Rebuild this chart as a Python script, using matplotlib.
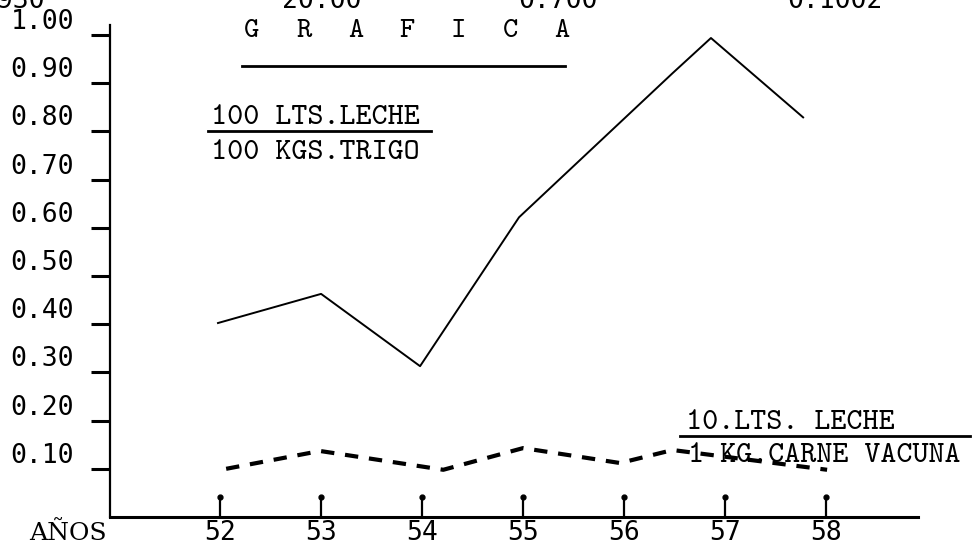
#Grafica: relacion de precios leche / trigo y leche / carne vacuna
import numpy as np
import matplotlib.pyplot as plt
from matplotlib.transforms import ScaledTranslation

# años (eje x) y ticks
years = [52, 53, 54, 55, 56, 57, 58]
year_labels = ['52', '53', '54', '55', '56', '57', '58']
y_ticks = [0.10, 0.20, 0.30, 0.40, 0.50, 0.60, 0.70, 0.80, 0.90, 1.00]
y_labels = ['0.10', '0.20', '0.30', '0.40', '0.50', '0.60', '0.70', '0.80', '0.90', '1.00']

# 100 lts leche / 100 kgs trigo (posiciones)
trigo_x = [51.97, 53.0, 53.98, 54.96, 56.48, 56.86, 57.78]
trigo_y = [0.402, 0.463, 0.313, 0.622, 0.921, 0.994, 0.828]

# 10 lts leche / 1 kg carne vacuna
carne_x = [52.06, 52.99, 54.21, 55.0, 55.96, 56.48, 58.01]
carne_y = [0.100, 0.137, 0.098, 0.143, 0.112, 0.139, 0.098]

# cabecera cortada arriba
header = ['1930', '20.00', '0.700', '0.1002']
title = 'GRAFICA'

mono = ['DejaVu Sans Mono']
tw = ['cmtt10', 'DejaVu Serif']

fig = plt.figure(figsize=(9.72, 5.46), dpi=100)
ax = fig.add_axes([110/972, 29/546, 808/972, 492/546])

ax.plot(trigo_x, trigo_y, color='black', lw=1.4, solid_capstyle='butt')
ax.plot(carne_x, carne_y, color='black', lw=3, dashes=(3.2, 2.6))

ax.set_xlim(50.91, 58.91)
ax.set_ylim(0, 1.021)

for s in ['top', 'right']:
    ax.spines[s].set_visible(False)
ax.spines['left'].set_linewidth(1.6)
ax.spines['bottom'].set_linewidth(2.2)

ax.set_yticks(y_ticks)
ax.set_yticklabels(y_labels, family=mono, fontsize=19)
ax.tick_params(axis='y', direction='out', length=14, width=2.2, pad=12)
for lbl in ax.get_yticklabels():
    lbl.set_transform(lbl.get_transform() + ScaledTranslation(0, 0.16, fig.dpi_scale_trans))

ax.set_xticks(years)
ax.set_xticklabels(year_labels, family=mono, fontsize=19)
ax.tick_params(axis='x', direction='in', length=13, width=1.6, pad=2)
# punto arriba de cada marca (como una "i" de maquina)
ax.plot(years, [0.042]*len(years), 'o', color='black', ms=3.5, clip_on=False)

# titulo, letras espaciadas
for i, ch in enumerate(title):
    fig.text((252 + i*51.7)/972, 1 - 37/546, ch, family=tw, fontsize=21,
             ha='center', va='baseline')
fig.add_artist(plt.Line2D([242/972, 565/972], [1 - 66/546]*2, color='black', lw=2))

# rotulo leche / trigo
fig.text(211/972, 1 - 124/546, '100 LTS.LECHE', family=tw, fontsize=22, ha='left', va='baseline')
fig.add_artist(plt.Line2D([208/972, 431/972], [1 - 131/546]*2, color='black', lw=2))
fig.text(211/972, 1 - 159/546, '100 KGS.TRIGO', family=tw, fontsize=22, ha='left', va='baseline')

# rotulo leche / carne
fig.text(686/972, 1 - 429/546, '10.LTS. LECHE', family=tw, fontsize=22, ha='left', va='baseline')
fig.add_artist(plt.Line2D([680/972, 970/972], [1 - 436/546]*2, color='black', lw=2))
fig.text(688/972, 1 - 462/546, '1 KG.CARNE VACUNA', family=tw, fontsize=22, ha='left', va='baseline')

fig.text(29/972, 1 - 540/546, 'AÑOS', family='DejaVu Serif', fontsize=18, ha='left', va='baseline')

# numeros cortados en el borde de arriba
hx = [45, 322, 558, 835]
fig.text(hx[0]/972, 1 - 8/546, header[0], family=mono, fontsize=19, ha='right', va='baseline')
for h, x in zip(header[1:], hx[1:]):
    fig.text(x/972, 1 - 8/546, h, family=mono, fontsize=19, ha='center', va='baseline')

fig.savefig('out.png', dpi=100)
